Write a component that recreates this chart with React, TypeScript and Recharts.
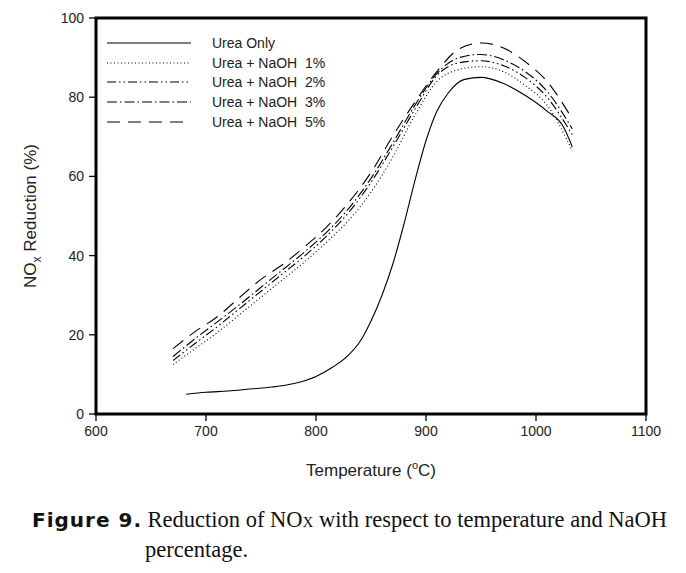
import React from "react";
import {
  LineChart,
  Line,
  XAxis,
  YAxis,
  ReferenceArea,
  Label,
} from "recharts";

// temperatures (°C) shared by the NaOH runs
const naohTemps = [670, 690, 710, 730, 750, 770, 790, 810, 830, 850, 870, 890, 910, 930, 950, 970, 990, 1010, 1033];
const naoh1 = [12.5, 16.5, 20.5, 25, 29.5, 34, 38.5, 43.5, 49, 56, 65, 75.5, 84, 87, 87.7, 86.5, 83, 78, 66.5];
const naoh2 = [13.5, 17.8, 22, 26.5, 31, 35.5, 40, 45, 51, 58.5, 67.5, 77, 85.5, 88.7, 89.2, 88, 85, 80, 70.5];
const naoh3 = [14.5, 19, 23.2, 27.5, 32, 36.5, 41, 46, 52, 59.5, 68.5, 78, 86, 90, 90.8, 89.5, 86.5, 81.5, 72];
const naoh5 = [16.5, 20.8, 24.5, 29.3, 34, 37.8, 42.3, 47.3, 53.5, 61, 70.3, 78.8, 86.5, 92.2, 93.7, 92.5, 89, 84, 74.5];

const ureaTemps = [682, 700, 720, 740, 760, 780, 800, 815, 830, 840, 850, 860, 870, 880, 890, 900, 910, 920, 935, 950, 970, 990, 1010, 1025, 1033];
const ureaOnly = [5, 5.5, 5.8, 6.3, 6.8, 7.7, 9.5, 11.8, 15, 18.3, 23.5, 30, 38, 48, 59, 69, 76.5, 81, 84.5, 85, 83.5, 80.5, 76.5, 72.5, 67.5];

const xTicks = [600, 700, 800, 900, 1000, 1100];
const yTicks = [0, 20, 40, 60, 80, 100];

const toPoints = (ts: number[], vs: number[]) => ts.map((t, i) => ({ t, v: vs[i] }));

const series = [
  { name: "Urea Only", data: toPoints(ureaTemps, ureaOnly), dash: undefined },
  { name: "Urea + NaOH  1%", data: toPoints(naohTemps, naoh1), dash: "1 2.5" },
  { name: "Urea + NaOH  2%", data: toPoints(naohTemps, naoh2), dash: "9 3 1.5 3 1.5 3" },
  { name: "Urea + NaOH  3%", data: toPoints(naohTemps, naoh3), dash: "10 3 1.5 3" },
  { name: "Urea + NaOH  5%", data: toPoints(naohTemps, naoh5), dash: "13 8" },
];

const FONT = "'Liberation Sans', Arial, sans-serif";

const LegendBox = () => (
  <div style={{ position: "absolute", left: 107, top: 33, fontFamily: FONT, fontSize: 14, color: "#222" }}>
    {series.map((s) => (
      <div key={s.name} style={{ display: "flex", alignItems: "center", height: 19.75 }}>
        <svg width={84} height={10} style={{ marginRight: 21 }}>
          <line x1={0} y1={5} x2={84} y2={5} stroke="#000" strokeWidth={1.1} strokeDasharray={s.dash} />
        </svg>
        <span style={{ whiteSpace: "pre" }}>{s.name}</span>
      </div>
    ))}
  </div>
);

export default function App() {
  return (
    <div style={{ position: "absolute", left: 0, top: 0, width: 686, height: 573, background: "#fff" }}>
      <LineChart width={686} height={480} margin={{ top: 18, right: 40, left: 0, bottom: 0 }}>
        <XAxis
          type="number"
          dataKey="t"
          domain={[600, 1100]}
          ticks={xTicks}
          axisLine={false}
          tickLine={{ stroke: "#000", strokeWidth: 1.3 }}
          tickSize={7}
          height={66}
          tick={{ fontFamily: FONT, fontSize: 14, fill: "#222" }}
          tickMargin={5}
        >
          <Label
            content={() => (
              <text x={371} y={476} textAnchor="middle" fontFamily={FONT} fontSize={17} fill="#222">
                Temperature (
                <tspan fontSize={11} dy={-7}>o</tspan>
                <tspan dy={7}>C)</tspan>
              </text>
            )}
          />
        </XAxis>
        <YAxis
          type="number"
          domain={[0, 100]}
          ticks={yTicks}
          width={96}
          axisLine={false}
          tickLine={{ stroke: "#000", strokeWidth: 1.3 }}
          tickSize={7}
          tick={{ fontFamily: FONT, fontSize: 14, fill: "#222" }}
          tickMargin={5}
        >
          <Label
            content={() => (
              <text
                transform="translate(36,216) rotate(-90)"
                textAnchor="middle"
                fontFamily={FONT}
                fontSize={17}
                fill="#222"
              >
                NO
                <tspan fontSize={12} dy={5}>x</tspan>
                <tspan dy={-5}> Reduction (%)</tspan>
              </text>
            )}
          />
        </YAxis>
        <ReferenceArea x1={600} x2={1100} y1={0} y2={100} fill="none" stroke="#000" strokeWidth={3} />
        {series.map((s) => (
          <Line
            key={s.name}
            data={s.data}
            dataKey="v"
            name={s.name}
            type="monotone"
            stroke="#000"
            strokeWidth={1.1}
            strokeDasharray={s.dash}
            dot={false}
            activeDot={false}
            isAnimationActive={false}
          />
        ))}
      </LineChart>
      <LegendBox />
      <div
        style={{
          position: "absolute",
          left: 32,
          top: 506,
          fontFamily: "'Liberation Serif', 'Times New Roman', serif",
          fontSize: 22.5,
          lineHeight: "27px",
          color: "#111",
        }}
      >
        <div style={{ whiteSpace: "nowrap" }}>
          <span
            style={{ fontFamily: "'DejaVu Sans', sans-serif", fontWeight: "bold", fontSize: 20, letterSpacing: 1 }}
          >
            Figure 9.
          </span>{" "}
          Reduction of NO<span style={{ fontSize: 15 }}>X</span> with respect to temperature and NaOH
        </div>
        <div style={{ paddingLeft: 113 }}>percentage.</div>
      </div>
    </div>
  );
}
